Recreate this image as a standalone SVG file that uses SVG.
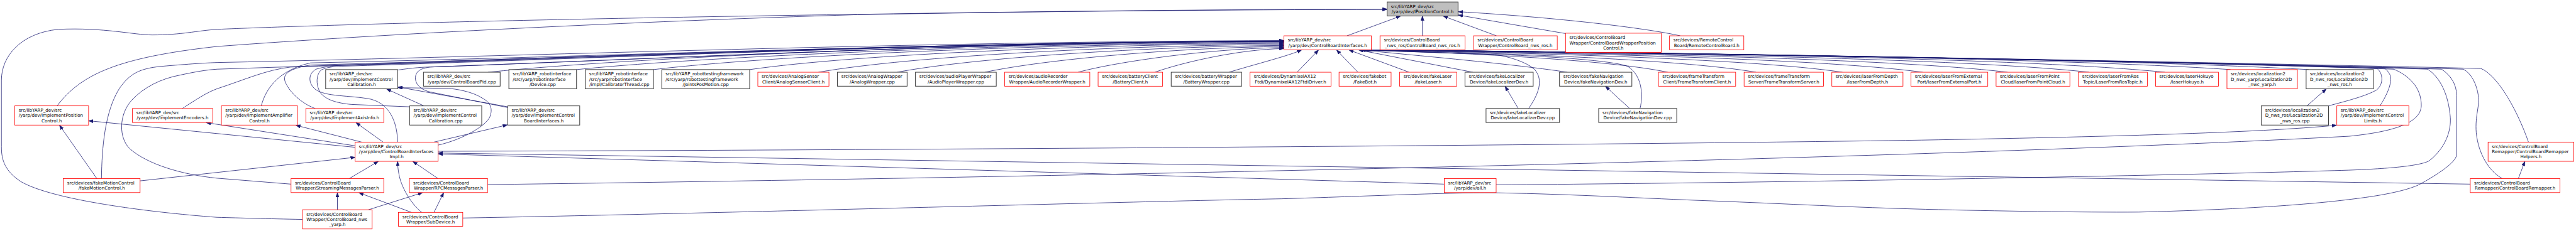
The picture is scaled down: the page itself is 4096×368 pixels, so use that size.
<svg xmlns="http://www.w3.org/2000/svg" width="4096" height="368" viewBox="0 0 4096 368">
<defs>
<style>
.e{fill:none;stroke:#191970;stroke-width:1.4;marker-end:url(#ah)}
.r rect{fill:#fff;stroke:#ff0000;stroke-width:1.5}
.k rect{fill:#fff;stroke:#404040;stroke-width:1.9}
.m rect{fill:#bfbfbf;stroke:#404040;stroke-width:1.9}
text{font-family:"DejaVu Sans","Liberation Sans",sans-serif;font-size:12.8px;fill:#000}
.c{text-anchor:middle}
</style>
<marker id="ah" markerUnits="userSpaceOnUse" markerWidth="14" markerHeight="10" refX="13" refY="4.75" orient="auto"><path d="M0,0 L13,4.75 L0,9.5 z" fill="#191970" stroke="#191970" stroke-width="1"/></marker>
</defs>
<rect width="4096" height="368" fill="#fff"/>
<g transform="scale(0.5566)">
<g id="edges">
<path class="e" d="M3848,102.5 L4001,46"/>
<path class="e" d="M4063.5,102.5 L4063.5,46"/>
<path class="e" d="M4275,102.5 L4123,46"/>
<path class="e" d="M4472.4,96 C4390,82 4280,63 4166,43"/>
<path class="e" d="M4800,102.5 C4700,80 4450,50 4166,33.5"/>
<path class="e" d="M163,303 C230,215 330,165 620,133 C1100,97 1800,62 2450,42 C3000,32 3500,28 3962,27"/>
<path class="e" d="M864.2,628 C760,626 690,624 620,622 C420,607 150,572 60,520 C15,490 4,460 4,420 L4,230 C4,160 60,95 166,84 C300,78 380,100 435,100 C520,100 560,88 620,84 C900,72 1500,55 2450,41 C3000,32 3500,27 3962,26"/>
<path class="e" d="M289.8,511.2 C291,420 300,320 340,255 C370,210 400,196 460,190 C540,183 590,180 620,179 C1540,160 2600,119 3667.5,116"/>
<path class="e" d="M521,310.5 C560,285 590,265 620,254 C700,228 760,200 830,192 C1680,165 2680,120 3667.5,117"/>
<path class="e" d="M831.4,527 L620,510 C520,500 420,470 370,425 C340,395 338,330 376,287 C410,250 460,225 514,215 C560,205 590,200 620,198 C1540,168 2600,121 3667.5,118.5"/>
<path class="e" d="M746.4,303 C760,250 800,200 887,180 C1720,162 2690,121 3667.5,118"/>
<path class="e" d="M900.6,310.5 C870,300 830,270 815,235 C805,210 830,196 887,186 C1720,164 2690,121 3667.5,118"/>
<path class="e" d="M1135.9,406.7 C1135,360 1120,300 1060,284 C1000,272 930,278 900,255 C880,238 880,210 903,198 C930,190 955,188 966,187.6 C1770,165 2700,121 3667.5,118"/>
<path class="e" d="M1170.3,305.7 L1005,299 C960,295 930,285 915,265 C900,240 905,210 918,200 C935,192 955,190 974,189.7 C1780,165 2700,121 3667.5,118"/>
<path class="e" d="M1135.9,200.5 C1180,194 1210,192 1230,191.8 C1960,165 2780,121 3667.5,118"/>
<path class="e" d="M1450.5,307.8 L1230,263.5 C1205,258 1190,245 1187,228 C1185,210 1195,200 1210,196 C1218,194 1225,192 1230,191.8 C1960,166 2780,121 3667.5,118"/>
<path class="e" d="M1394,206.7 C1849,160 2872,121 3667.5,118"/>
<path class="e" d="M1647,199.2 C2051,158 2960,123 3667.5,120"/>
<path class="e" d="M1866.8,199.2 C2227,156 3037,125 3667.5,122"/>
<path class="e" d="M2141.6,199.2 C2447,155 3133,127 3667.5,124"/>
<path class="e" d="M2338,206.7 C2604,160 3202,130 3667.5,127"/>
<path class="e" d="M2562.6,206.7 C2783,165 3281,133 3667.5,130"/>
<path class="e" d="M2813.7,206.7 C2984,170 3368,136 3667.5,133"/>
<path class="e" d="M3079.7,206.7 C3197,175 3462,139 3667.5,136"/>
<path class="e" d="M3299,206.7 C3373,180 3538,141 3667.5,139"/>
<path class="e" d="M3510.6,206.7 C3600,180 3680,160 3718.5,143"/>
<path class="e" d="M3705.5,206.7 L3766.8,143"/>
<path class="e" d="M3879.4,206.7 L3818.2,143"/>
<path class="e" d="M4025.7,206.7 L3853.7,143"/>
<path class="e" d="M4207.6,206.7 L3881.4,143"/>
<path class="e" d="M4366.9,310.5 C4395,270 4410,230 4385,200 C4360,175 4300,160 4270,156 C4100,150 3960,146 3886,143"/>
<path class="e" d="M4477.6,206.7 C4300,180 4000,155 3888,143"/>
<path class="e" d="M4685.2,310.5 C4695,270 4690,215 4650,190 C4600,170 4350,158 4270,156 C4100,150 3960,146 3890,143"/>
<path class="e" d="M4764.3,206.7 C4590,170 4156,150 3892,143"/>
<path class="e" d="M5016.4,206.7 C4792,168 4233,150 3893,143"/>
<path class="e" d="M5263.5,206.7 C4990,166 4308,150 3894,143"/>
<path class="e" d="M5492.9,206.7 C5174,164 4377,150 3895,143"/>
<path class="e" d="M5735.1,206.7 C5368,163 4450,150 3896,143"/>
<path class="e" d="M5968.4,206.7 C5555,162 4521,150 3897,143"/>
<path class="e" d="M6185,206.7 C5728,161 4587,150 3898,143"/>
<path class="e" d="M6372,199.2 C5878,165 4644,150 3899,143"/>
<path class="e" d="M6595,199.2 C6057,168 4711,150 3900,143"/>
<path class="e" d="M6652,303 C6700,290 6760,275 6790,257 C6810,240 6808,210 6790.7,196 C6210,175 4770,150 3901,143"/>
<path class="e" d="M6799,303 C6820,270 6835,235 6828,215 C6823,205 6818,200 6813.5,196 C6231,176 4775,150 3902,143"/>
<path class="e" d="M1392.8,528.3 C3000,508 5500,455 6710,390 C6860,375 6915,345 6917,303 C6918,250 6880,215 6838,198 C6250,177 4783,150 3903,143"/>
<path class="e" d="M4274,529 C5200,522 6300,500 6710,487 C6850,482 6920,472 6940,460 C6990,420 7002,370 7000,337 C6995,270 6970,220 6935,198 C6329,178 4813,150 3904,143"/>
<path class="e" d="M1322,624 C2000,612 3300,575 3660,569 C3900,562 4150,550 4280,552 C4500,556 4700,568 4890,575 C5100,583 5300,594 5500,599 C5700,604 5950,608 6110,607 C6400,600 6600,585 6710,571 C6850,555 6900,535 6917,525 C6980,490 7018,460 7018,442 L7018,274 C7018,240 7000,215 6975,198 C6360,179 4826,150 3905,143"/>
<path class="e" d="M7148.7,511.2 C7110,490 7080,440 7074,380 C7070,330 7085,300 7080,274 C7075,240 7060,210 7037,198 C6410,180 4844,150 3905,143"/>
<path class="e" d="M7223.2,406.7 C7200,340 7160,260 7120,220 C7105,205 7095,199 7086.6,196 C6450,181 4860,150 3906,143"/>
<path class="e" d="M276.8,511.2 L170,358.5"/>
<path class="e" d="M400.2,517.7 L1014.5,450.3"/>
<path class="e" d="M1014.5,421.6 L253.1,345.7"/>
<path class="e" d="M1014.5,417.4 L589,351"/>
<path class="e" d="M1033,406.7 L845,358.5"/>
<path class="e" d="M1094.4,406.7 L1017,351"/>
<path class="e" d="M1239.8,406.7 L1449.3,357.5"/>
<path class="e" d="M1251.6,415.3 C1320,400 1390,360 1400,333 C1410,305 1395,290 1378,281 C1350,262 1300,254 1280,253 L1137,251"/>
<path class="e" d="M1450.5,305.7 L1137,249"/>
<path class="e" d="M1211,303 L1104.3,254.7"/>
<path class="e" d="M963.9,600.3 L963.9,551.5"/>
<path class="e" d="M1052.8,600.3 L1207,551.5"/>
<path class="e" d="M1175.4,607.8 L1025.2,551.5"/>
<path class="e" d="M1205,607.8 C1170,580 1145,530 1140,500 C1137,485 1136,475 1136,462"/>
<path class="e" d="M1239.8,607.8 L1267.4,551.5"/>
<path class="e" d="M997.5,511.2 L1080.5,462"/>
<path class="e" d="M1251.6,511.2 L1179.4,462"/>
<path class="e" d="M1251.6,433 C2500,430 4500,416 5490,401 C6000,392 6450,380 6675,358.5"/>
<path class="e" d="M4125.8,527 L1252,440.6"/>
<path class="e" d="M7056.9,527 L1252,438"/>
<path class="e" d="M7194.2,511.2 L7212.9,462"/>
<path class="e" d="M6590.3,303 L6645.7,254.5"/>
<path class="e" d="M4337.2,310.5 L4299.7,247"/>
<path class="e" d="M4655.5,310.5 L4586.3,247"/>
</g>
<g id="n0" class="m"><rect x="3962.5" y="5.7" width="202.8" height="40"/><text x="3973.5" y="22.6">src/libYARP_dev/src</text><text class="c" x="4063.9" y="37.4">/yarp/dev/IPositionControl.h</text></g>
<g id="n1" class="r"><rect x="3667.9" y="102.5" width="249.9" height="40"/><text x="3678.9" y="119.4">src/libYARP_dev/src</text><text class="c" x="3792.85" y="134.2">/yarp/dev/ControlBoardInterfaces.h</text></g>
<g id="n2" class="r"><rect x="3942.3" y="102.5" width="242.8" height="40"/><text x="3953.3" y="119.4">src/devices/ControlBoard</text><text class="c" x="4063.7" y="134.2">_nws_ros/ControlBoard_nws_ros.h</text></g>
<g id="n3" class="r"><rect x="4209.6" y="102.5" width="239.1" height="40"/><text x="4220.6" y="119.4">src/devices/ControlBoard</text><text class="c" x="4329.15" y="134.2">Wrapper/ControlBoard_nws_ros.h</text></g>
<g id="n4" class="r"><rect x="4472.4" y="95" width="273.3" height="55"/><text x="4483.4" y="112">src/devices/ControlBoard</text><text x="4483.4" y="126.8">Wrapper/ControlBoardWrapperPosition</text><text class="c" x="4609.05" y="141.6">Control.h</text></g>
<g id="n5" class="r"><rect x="4769.4" y="102.5" width="212.2" height="40"/><text x="4780.4" y="119.4">src/devices/RemoteControl</text><text class="c" x="4875.5" y="134.2">Board/RemoteControlBoard.h</text></g>
<g id="n6" class="k"><rect x="930.3" y="199.2" width="205.6" height="55"/><text x="941.3" y="216.2">src/libYARP_dev/src</text><text x="941.3" y="231">/yarp/dev/ImplementControl</text><text class="c" x="1033.1" y="245.8">Calibration.h</text></g>
<g id="n7" class="k"><rect x="1209.8" y="206.7" width="219" height="40"/><text x="1220.8" y="223.6">src/libYARP_dev/src</text><text class="c" x="1319.3" y="238.4">/yarp/dev/ControlBoardPid.cpp</text></g>
<g id="n8" class="k"><rect x="1453.7" y="199.2" width="193.3" height="55"/><text x="1464.7" y="216.2">src/libYARP_robotinterface</text><text x="1464.7" y="231">/src/yarp/robotinterface</text><text class="c" x="1550.35" y="245.8">/Device.cpp</text></g>
<g id="n9" class="k"><rect x="1672" y="199.2" width="194.8" height="55"/><text x="1683" y="216.2">src/libYARP_robotinterface</text><text x="1683" y="231">/src/yarp/robotinterface</text><text class="c" x="1769.4" y="245.8">/impl/CalibratorThread.cpp</text></g>
<g id="n10" class="k"><rect x="1890.5" y="199.2" width="251.1" height="55"/><text x="1901.5" y="216.2">src/libYARP_robottestingframework</text><text x="1901.5" y="231">/src/yarp/robottestingframework</text><text class="c" x="2016.05" y="245.8">/JointsPosMotion.cpp</text></g>
<g id="n11" class="r"><rect x="2164.9" y="206.7" width="203.2" height="40"/><text x="2175.9" y="223.6">src/devices/AnalogSensor</text><text class="c" x="2266.5" y="238.4">Client/AnalogSensorClient.h</text></g>
<g id="n12" class="k"><rect x="2392.3" y="206.7" width="199.1" height="40"/><text x="2403.3" y="223.6">src/devices/AnalogWrapper</text><text class="c" x="2491.85" y="238.4">/AnalogWrapper.cpp</text></g>
<g id="n13" class="k"><rect x="2615.2" y="206.7" width="230.9" height="40"/><text x="2626.2" y="223.6">src/devices/audioPlayerWrapper</text><text class="c" x="2730.65" y="238.4">/AudioPlayerWrapper.cpp</text></g>
<g id="n14" class="r"><rect x="2870.2" y="206.7" width="243.1" height="40"/><text x="2881.2" y="223.6">src/devices/audioRecorder</text><text class="c" x="2991.75" y="238.4">Wrapper/AudioRecorderWrapper.h</text></g>
<g id="n15" class="r"><rect x="3137" y="206.7" width="184.3" height="40"/><text x="3148" y="223.6">src/devices/batteryClient</text><text class="c" x="3229.15" y="238.4">/BatteryClient.h</text></g>
<g id="n16" class="k"><rect x="3345.8" y="206.7" width="201.2" height="40"/><text x="3356.8" y="223.6">src/devices/batteryWrapper</text><text class="c" x="3446.4" y="238.4">/BatteryWrapper.cpp</text></g>
<g id="n17" class="r"><rect x="3571.1" y="206.7" width="231.2" height="40"/><text x="3582.1" y="223.6">src/devices/DynamixelAX12</text><text class="c" x="3686.7" y="238.4">Ftdi/DynamixelAX12FtdiDriver.h</text></g>
<g id="n18" class="r"><rect x="3825.3" y="206.7" width="148.7" height="40"/><text x="3836.3" y="223.6">src/devices/fakebot</text><text class="c" x="3899.65" y="238.4">/FakeBot.h</text></g>
<g id="n19" class="r"><rect x="3998.5" y="206.7" width="162.9" height="40"/><text x="4009.5" y="223.6">src/devices/fakeLaser</text><text class="c" x="4079.95" y="238.4">/fakeLaser.h</text></g>
<g id="n20" class="k"><rect x="4185.1" y="206.7" width="194.8" height="40"/><text x="4196.1" y="223.6">src/devices/fakeLocalizer</text><text class="c" x="4282.5" y="238.4">Device/fakeLocalizerDev.h</text></g>
<g id="n21" class="k"><rect x="4455.1" y="206.7" width="206.7" height="40"/><text x="4466.1" y="223.6">src/devices/fakeNavigation</text><text class="c" x="4558.45" y="238.4">Device/fakeNavigationDev.h</text></g>
<g id="n22" class="r"><rect x="4737.8" y="206.7" width="220.5" height="40"/><text x="4748.8" y="223.6">src/devices/frameTransform</text><text class="c" x="4848.05" y="238.4">Client/FrameTransformClient.h</text></g>
<g id="n23" class="r"><rect x="4982.4" y="206.7" width="227" height="40"/><text x="4993.4" y="223.6">src/devices/frameTransform</text><text class="c" x="5095.9" y="238.4">Server/FrameTransformServer.h</text></g>
<g id="n24" class="r"><rect x="5233.1" y="206.7" width="203.2" height="40"/><text x="5244.1" y="223.6">src/devices/laserFromDepth</text><text class="c" x="5334.7" y="238.4">/laserFromDepth.h</text></g>
<g id="n25" class="r"><rect x="5459.3" y="206.7" width="219.3" height="40"/><text x="5470.3" y="223.6">src/devices/laserFromExternal</text><text class="c" x="5568.95" y="238.4">Port/laserFromExternalPort.h</text></g>
<g id="n26" class="r"><rect x="5702.3" y="206.7" width="210.8" height="40"/><text x="5713.3" y="223.6">src/devices/laserFromPoint</text><text class="c" x="5807.7" y="238.4">Cloud/laserFromPointCloud.h</text></g>
<g id="n27" class="r"><rect x="5937.2" y="206.7" width="197.2" height="40"/><text x="5948.2" y="223.6">src/devices/laserFromRos</text><text class="c" x="6035.8" y="238.4">Topic/LaserFromRosTopic.h</text></g>
<g id="n28" class="r"><rect x="6157.7" y="206.7" width="179.9" height="40"/><text x="6168.7" y="223.6">src/devices/laserHokuyo</text><text class="c" x="6247.65" y="238.4">/laserHokuyo.h</text></g>
<g id="n29" class="r"><rect x="6361.8" y="199.2" width="201.2" height="55"/><text x="6372.8" y="216.2">src/devices/localization2</text><text x="6372.8" y="231">D_nwc_yarp/Localization2D</text><text class="c" x="6462.4" y="245.8">_nwc_yarp.h</text></g>
<g id="n30" class="k"><rect x="6588" y="199.2" width="192.4" height="55"/><text x="6599" y="216.2">src/devices/localization2</text><text x="6599" y="231">D_nws_ros/Localization2D</text><text class="c" x="6684.2" y="245.8">_nws_ros.h</text></g>
<g id="n31" class="r"><rect x="42.3" y="303" width="210.8" height="55"/><text x="53.3" y="320">src/libYARP_dev/src</text><text x="53.3" y="334.8">/yarp/dev/ImplementPosition</text><text class="c" x="147.7" y="349.6">Control.h</text></g>
<g id="n32" class="r"><rect x="378.4" y="310.5" width="229.3" height="40"/><text x="389.4" y="327.4">src/libYARP_dev/src</text><text class="c" x="493.05" y="342.2">/yarp/dev/ImplementEncoders.h</text></g>
<g id="n33" class="r"><rect x="632.5" y="303" width="217.5" height="55"/><text x="643.5" y="320">src/libYARP_dev/src</text><text x="643.5" y="334.8">/yarp/dev/ImplementAmplifier</text><text class="c" x="741.25" y="349.6">Control.h</text></g>
<g id="n34" class="r"><rect x="873.7" y="310.5" width="222.6" height="40"/><text x="884.7" y="327.4">src/libYARP_dev/src</text><text class="c" x="985" y="342.2">/yarp/dev/ImplementAxisInfo.h</text></g>
<g id="n35" class="k"><rect x="1170.3" y="303" width="205.9" height="55"/><text x="1181.3" y="320">src/libYARP_dev/src</text><text x="1181.3" y="334.8">/yarp/dev/ImplementControl</text><text class="c" x="1273.25" y="349.6">Calibration.cpp</text></g>
<g id="n36" class="k"><rect x="1450.5" y="303" width="205.6" height="55"/><text x="1461.5" y="320">src/libYARP_dev/src</text><text x="1461.5" y="334.8">/yarp/dev/ImplementControl</text><text class="c" x="1553.3" y="349.6">BoardInterfaces.h</text></g>
<g id="n37" class="k"><rect x="4245.2" y="310.5" width="209.9" height="40"/><text x="4256.2" y="327.4">src/devices/fakeLocalizer</text><text class="c" x="4350.15" y="342.2">Device/fakeLocalizerDev.cpp</text></g>
<g id="n38" class="k"><rect x="4567" y="310.5" width="223" height="40"/><text x="4578" y="327.4">src/devices/fakeNavigation</text><text class="c" x="4678.5" y="342.2">Device/fakeNavigationDev.cpp</text></g>
<g id="n39" class="k"><rect x="6459.8" y="303" width="192.2" height="55"/><text x="6470.8" y="320">src/devices/localization2</text><text x="6470.8" y="334.8">D_nws_ros/Localization2D</text><text class="c" x="6555.9" y="349.6">_nws_ros.cpp</text></g>
<g id="n40" class="r"><rect x="6675.7" y="303" width="205.7" height="55"/><text x="6686.7" y="320">src/libYARP_dev/src</text><text x="6686.7" y="334.8">/yarp/dev/ImplementControl</text><text class="c" x="6778.55" y="349.6">Limits.h</text></g>
<g id="n41" class="r"><rect x="1014.5" y="406.7" width="237.1" height="55"/><text x="1025.5" y="423.7">src/libYARP_dev/src</text><text x="1025.5" y="438.5">/yarp/dev/ControlBoardInterfaces</text><text class="c" x="1133.05" y="453.3">Impl.h</text></g>
<g id="n42" class="r"><rect x="7107.8" y="406.7" width="245" height="55"/><text x="7118.8" y="423.7">src/devices/ControlBoard</text><text x="7118.8" y="438.5">Remapper/ControlBoardRemapper</text><text class="c" x="7230.3" y="453.3">Helpers.h</text></g>
<g id="n43" class="r"><rect x="180.7" y="511.2" width="219.5" height="40"/><text x="191.7" y="528.1">src/devices/fakeMotionControl</text><text class="c" x="290.45" y="542.9">/fakeMotionControl.h</text></g>
<g id="n44" class="r"><rect x="831.4" y="511.2" width="264.9" height="40"/><text x="842.4" y="528.1">src/devices/ControlBoard</text><text class="c" x="963.85" y="542.9">Wrapper/StreamingMessagesParser.h</text></g>
<g id="n45" class="r"><rect x="1169.5" y="511.2" width="223.3" height="40"/><text x="1180.5" y="528.1">src/devices/ControlBoard</text><text class="c" x="1281.15" y="542.9">Wrapper/RPCMessagesParser.h</text></g>
<g id="n46" class="r"><rect x="4125.8" y="511.2" width="148.3" height="40"/><text x="4136.8" y="528.1">src/libYARP_dev/src</text><text class="c" x="4199.95" y="542.9">/yarp/dev/all.h</text></g>
<g id="n47" class="r"><rect x="7056.9" y="511.2" width="256.2" height="40"/><text x="7067.9" y="528.1">src/devices/ControlBoard</text><text class="c" x="7185" y="542.9">Remapper/ControlBoardRemapper.h</text></g>
<g id="n48" class="r"><rect x="864.2" y="600.3" width="198.9" height="55"/><text x="875.2" y="617.3">src/devices/ControlBoard</text><text x="875.2" y="632.1">Wrapper/ControlBoard_nws</text><text class="c" x="963.65" y="646.9">_yarp.h</text></g>
<g id="n49" class="r"><rect x="1138.3" y="607.8" width="183.7" height="40"/><text x="1149.3" y="624.7">src/devices/ControlBoard</text><text class="c" x="1230.15" y="639.5">Wrapper/SubDevice.h</text></g>
</g>
</svg>
